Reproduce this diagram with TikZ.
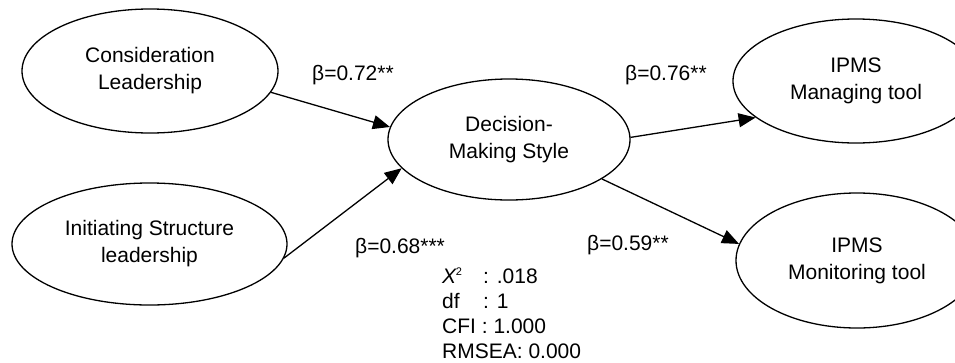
\documentclass[tikz,border=0pt]{standalone}
\usepackage{fontspec}
\setmainfont{Liberation Sans}
\usetikzlibrary{arrows.meta,shapes.geometric}
\tikzset{
  construct/.style={draw, ellipse, line width=1.3pt, inner sep=0pt, align=center,
    font=\fontsize{21}{27}\selectfont},
  path arrow/.style={line width=1.3pt, -{Triangle[length=17pt,width=14pt]}},
  coef/.style={font=\fontsize{21}{25}\selectfont, inner sep=0pt},
}
\begin{document}
\begin{tikzpicture}[x=1pt,y=-1pt]
\useasboundingbox[fill=white] (0,0) rectangle (955,362);
\node[construct, minimum width=256pt, minimum height=124pt] (CL) at (150,71) {Consideration\\Leadership};
\node[construct, minimum width=275pt, minimum height=122pt] (IS) at (149.5,244) {Initiating Structure\\leadership};
\node[construct, minimum width=242pt, minimum height=121pt] (DM) at (509,139.5) {Decision-\\Making Style};
\node[construct, minimum width=246pt, minimum height=124pt] (MG) at (856,81) {IPMS\\Managing tool};
\node[construct, minimum width=242pt, minimum height=135pt] (MO) at (857,260.5) {IPMS\\Monitoring tool};

\draw[path arrow] (CL.-10) -- (DM.174);
\draw[path arrow] (IS.-6) -- (DM.-165);
\draw[path arrow] (DM.1) -- (MG.-160);
\draw[path arrow] (DM.-23) -- (MO.172);

\node[coef, anchor=base west] (b1) at (312,80) {β=0.72**};
\node[coef, anchor=base west] (b2) at (625,80) {β=0.76**};
\node[coef, anchor=base west] (b3) at (355,253) {β=0.68***};
\node[coef, anchor=base west] (b4) at (587,250) {β=0.59**};

\node[coef, anchor=base west, align=left] (fit) at (442,358)
  {\makebox[41pt][l]{\textit{X}\kern-1pt\raisebox{8pt}{\fontsize{11}{11}\selectfont 2}}: .018\\
   \makebox[41pt][l]{df}: 1\\
   CFI : 1.000\\
   RMSEA: 0.000};
\end{tikzpicture}
\end{document}
